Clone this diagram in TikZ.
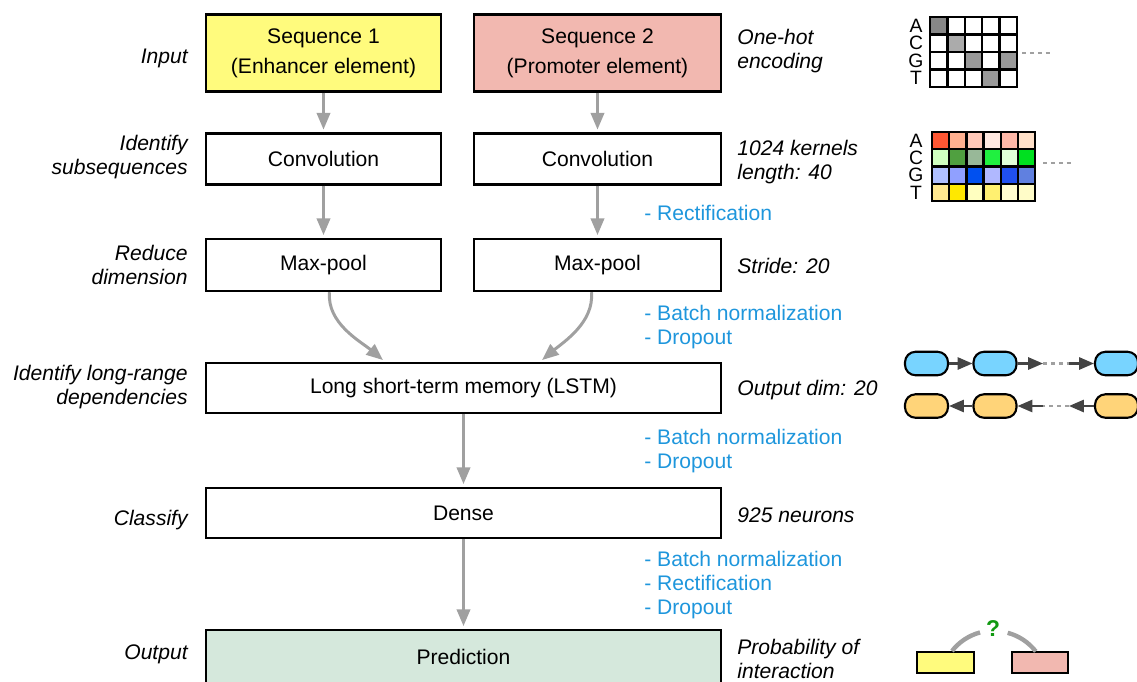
\documentclass[tikz,border=0pt]{standalone}
\usepackage{fontspec}
\setmainfont{Liberation Sans}
\usepackage{xcolor}
\definecolor{fffb7d}{HTML}{FFFB7D}
\definecolor{f2b8b0}{HTML}{F2B8B0}
\definecolor{d5e8dc}{HTML}{D5E8DC}
\definecolor{b1e96dc}{HTML}{1E96DC}
\definecolor{a0a0a0}{HTML}{A0A0A0}
\definecolor{d444444}{HTML}{444444}
\definecolor{c78d4ff}{HTML}{78D4FF}
\definecolor{ffd479}{HTML}{FFD479}
\definecolor{e119911}{HTML}{119911}
\usepackage{tikz}
\usetikzlibrary{arrows.meta}

\begin{document}
\begin{tikzpicture}[x=0.02cm, y=-0.02cm,
        layer/.style={draw, line width=1.4pt, align=center, font=\fontsize{12}{17}\selectfont},
        flow/.style={draw=a0a0a0, line width=1.7pt, -{Triangle[length=9.5pt,width=7.5pt]}, shorten >=1.5pt},
        stage/.style={anchor=east, align=right, inner sep=0pt, font=\fontsize{12}{13.6}\selectfont\itshape},
        param/.style={anchor=west, align=left, inner sep=0pt, font=\fontsize{12}{13.6}\selectfont\itshape},
        extra/.style={anchor=west, align=left, inner sep=0pt, text=b1e96dc, font=\fontsize{12}{13.6}\selectfont},
        base/.style={inner sep=0pt, font=\fontsize{11}{11}\selectfont},
        pill/.style={draw, line width=1.2pt, rounded corners=6pt, minimum width=0.86cm, minimum height=0.47cm, inner sep=0pt},
        rnn/.style={draw=d444444, line width=1.2pt, -{Triangle[length=8.5pt,width=7pt]}},
        gap/.style={draw=a0a0a0, line width=1.3pt, dash pattern=on 2.5pt off 2pt}]
            \useasboundingbox (0,0) rectangle (1137,681);
            \clip (0,0) rectangle (1137,681);

            % network
            \node[layer, fill=fffb7d, minimum width=4.7cm, minimum height=1.54cm] (seqa) at (323.5,53) {Sequence 1\\(Enhancer element)};
            \node[layer, fill=f2b8b0, minimum width=4.94cm, minimum height=1.54cm] (seqb) at (597.5,53) {Sequence 2\\(Promoter element)};
            \node[layer, minimum width=4.7cm, minimum height=1.02cm] (conva) at (323.5,159) {Convolution};
            \node[layer, minimum width=4.94cm, minimum height=1.02cm] (convb) at (597.5,159) {Convolution};
            \node[layer, minimum width=4.7cm, minimum height=1.04cm] (poola) at (323.5,265) {Max-pool};
            \node[layer, minimum width=4.94cm, minimum height=1.04cm] (poolb) at (597.5,265) {Max-pool};
            \node[layer, minimum width=10.3cm, minimum height=1cm] (lstm) at (463.5,388) {Long short-term memory (LSTM)};
            \node[layer, minimum width=10.3cm, minimum height=1cm] (dense) at (463.5,513) {Dense};
            \node[layer, fill=d5e8dc, minimum width=10.3cm, minimum height=1.08cm] (pred) at (463.5,657) {Prediction};

            \draw[flow] (seqa) -- (conva);
            \draw[flow] (seqb) -- (convb);
            \draw[flow] (conva) -- (poola);
            \draw[flow] (convb) -- (poolb);
            \draw[flow] ([xshift=0.12cm]poola.south) to[out=-95, in=140, looseness=0.9] ([xshift=-1.57cm]lstm.north);
            \draw[flow] ([xshift=-0.12cm]poolb.south) to[out=-85, in=40, looseness=0.9] ([xshift=1.53cm]lstm.north);
            \draw[flow] (lstm) -- (dense);
            \draw[flow] (dense) -- (pred);

            % stages
            \node[stage] (lin) at (188,58) {Input};
            \node[stage] (lconv) at (188,157) {Identify\\subsequences};
            \node[stage] (lpool) at (188,265) {Reduce\\dimension};
            \node[stage] (llstm) at (188,387) {Identify long-range\\dependencies};
            \node[stage] (ldense) at (188,520) {Classify};
            \node[stage] (lout) at (188,654) {Output};

            \node[param] (pin) at (737,51) {One-hot\\encoding};
            \node[param] (pconv) at (737,162) {1024 kernels\\length: 40};
            \node[param] (ppool) at (737,266) {Stride: 20};
            \node[param] (plstm) at (737,390) {Output dim: 20};
            \node[param] (pdense) at (737,515) {925 neurons};
            \node[param] (pout) at (737,659) {Probability of\\interaction};

            \node[extra] (xconv) at (644,213) {- Rectification};
            \node[extra] (xpool) at (644,327) {- Batch normalization\\- Dropout};
            \node[extra] (xlstm) at (644,451) {- Batch normalization\\- Dropout};
            \node[extra] (xdense) at (644,585) {- Batch normalization\\- Rectification\\- Dropout};

            % one-hot encoding
            \foreach \c/\r/\g in {0/0/47, 1/1/33, 2/2/40, 4/2/40, 3/3/40}
                \fill[black!\g] (930+17.4*\c,17+17.5*\r) rectangle ++(17.4,17.5);
            \foreach \r in {0,...,3}
                \foreach \c in {0,...,4}
                    \draw[line width=1.3pt] (930+17.4*\c,17+17.5*\r) rectangle ++(17.4,17.5);
            \foreach \b [count=\r from 0] in {A,C,G,T}
                \node[base] (oh\b) at (916,25.75+17.5*\r) {\b};
            \coordinate (ohend) at (1022,53);
            \coordinate (ohmore) at (1050,53);
            \draw[gap] (ohend) -- (ohmore);

            % kernels
            \foreach \k [count=\n from 0] in {FF5733,FFB090,FFC8B8,FFE8E0,FFB8A8,FFE0C8,
                                               D0FFC0,50A040,98B898,20F040,E0FFD8,00E020,
                                               B0C0FF,90A0FF,0050F0,B0B8FF,2050F0,6080E0,
                                               FFE890,FFE800,FFFFC0,FFF070,FFFCD0,FFFCC8} {
                \pgfmathtruncatemacro\c{mod(\n,6)}
                \pgfmathtruncatemacro\r{int(\n/6)}
                \definecolor{kern}{HTML}{\k}
                \fill[kern] (932+17.2*\c,132+17.3*\r) rectangle ++(17.2,17.3);
                \draw[line width=1.3pt] (932+17.2*\c,132+17.3*\r) rectangle ++(17.2,17.3);
            }
            \foreach \b [count=\r from 0] in {A,C,G,T}
                \node[base] (kn\b) at (916,140.6+17.3*\r) {\b};
            \coordinate (knend) at (1043,163);
            \coordinate (knmore) at (1072,163);
            \draw[gap] (knend) -- (knmore);

            % lstm
            \node[pill, fill=c78d4ff] (fa) at (926.5,363.5) {};
            \node[pill, fill=c78d4ff] (fb) at (995,363.5) {};
            \node[pill, fill=c78d4ff] (fc) at (1116.5,363.5) {};
            \node[pill, fill=ffd479] (ba) at (926.5,406) {};
            \node[pill, fill=ffd479] (bb) at (995,406) {};
            \node[pill, fill=ffd479] (bc) at (1116.5,406) {};
            \coordinate (fm) at (1043,363.5);
            \coordinate (fn) at (1069,363.5);
            \coordinate (bm) at (1043,406);
            \coordinate (bn) at (1069,406);
            \draw[rnn] (fa) -- (fb);
            \draw[rnn] (fb) -- (fm);
            \draw[gap] (fm) -- (fn);
            \draw[rnn] (fn) -- (fc);
            \draw[rnn] (bb) -- (ba);
            \draw[rnn] (bm) -- (bb);
            \draw[gap] (bn) -- (bm);
            \draw[rnn] (bc) -- (bn);

            % interaction
            \node[draw, line width=1.2pt, fill=fffb7d, minimum width=1.14cm, minimum height=0.42cm, inner sep=0pt] (ia) at (945.5,662.5) {};
            \node[draw, line width=1.2pt, fill=f2b8b0, minimum width=1.12cm, minimum height=0.42cm, inner sep=0pt] (ib) at (1040,662.5) {};
            \draw[a0a0a0, line width=2.5pt] (952,651) arc[start angle=-142, end angle=-105, radius=53];
            \draw[a0a0a0, line width=2.5pt] (1007.7,632.8) arc[start angle=-75, end angle=-38, radius=53];
            \node[text=e119911, font=\bfseries\fontsize{13}{14}\selectfont] (qm) at (993,629) {?};
        \end{tikzpicture}
\end{document}
